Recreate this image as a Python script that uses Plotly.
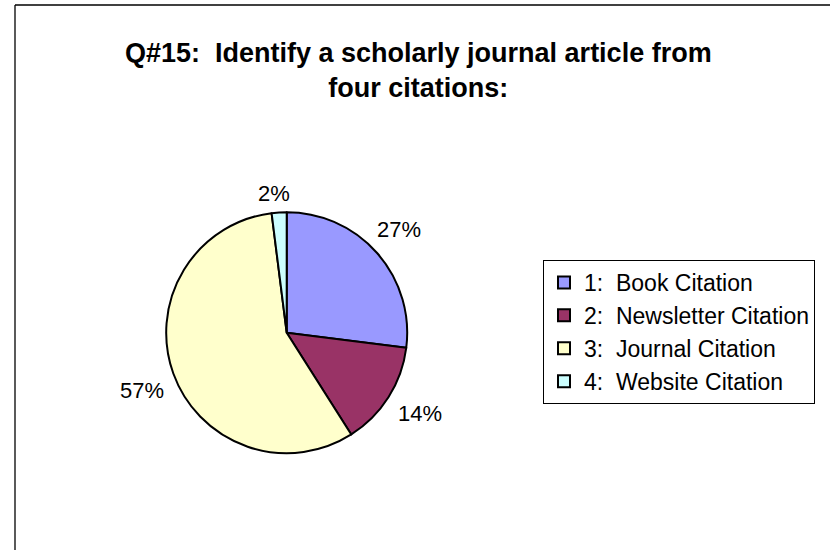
import math
import plotly.graph_objects as go

# ---- data ----
labels = ["1:\u00a0 Book Citation", "2:\u00a0 Newsletter Citation",
          "3:\u00a0 Journal Citation", "4:\u00a0 Website Citation"]
values = [27, 14, 57, 2]
pct_text = ["27%", "14%", "57%", "2%"]
colors = ["#9999FF", "#993366", "#FFFFCC", "#CCFFFF"]
title_text = "Q#15:\u00a0 Identify a scholarly journal article from<br>four citations:"

W, H = 830, 550
cx, cy, R = 286.7, 332.7, 120.5  # pie centre / radius in pixels
FS = 22

fig = go.Figure(go.Pie(
    labels=labels, values=values, sort=False, direction="clockwise", rotation=0,
    marker=dict(colors=colors, line=dict(color="#000000", width=2)),
    textinfo="none", hoverinfo="label+percent",
    domain=dict(x=[(cx - R) / W, (cx + R) / W], y=[1 - (cy + R) / H, 1 - (cy - R) / H]),
))

# percentage labels placed outside the pie, from the data angles
total = sum(values)
cum = 0
annotations = []
for v, t in zip(values, pct_text):
    mid = (cum + v / 2) / total * 2 * math.pi - 0.025
    cum += v
    s, c = math.sin(mid), math.cos(mid)
    w = sum(0.889 if ch == "%" else 0.556 for ch in t) * FS
    h = 14
    d = R + 12 + abs(s) * w / 2 + abs(c) * h / 2
    px, py = cx + d * s, cy - d * c
    annotations.append(dict(x=px / W, y=1 - (py + 1) / H, xref="paper", yref="paper",
                            text=t, showarrow=False, xanchor="center", yanchor="middle",
                            font=dict(size=FS, color="#000000")))

fig.update_layout(
    width=W, height=H, margin=dict(l=0, r=0, t=0, b=0),
    paper_bgcolor="white", plot_bgcolor="white",
    font=dict(family="Arial, Liberation Sans, sans-serif", color="#000000"),
    title=dict(text="<b>" + title_text + "</b>", x=0.504, xanchor="center",
               y=1 - 62 / H, yanchor="top", font=dict(size=27, color="#000000")),
    legend=dict(x=543 / W, y=1 - 260 / H, xanchor="left", yanchor="top",
                bordercolor="#000000", borderwidth=1, bgcolor="white",
                font=dict(size=23, color="#000000")),
    annotations=annotations,
    shapes=[
        dict(type="line", xref="paper", yref="paper", x0=15 / W, x1=1, y0=1 - 5 / H, y1=1 - 5 / H,
             line=dict(color="#000000", width=1.3)),
        dict(type="line", xref="paper", yref="paper", x0=15 / W, x1=15 / W, y0=0, y1=1 - 5 / H,
             line=dict(color="#000000", width=1.3)),
    ],
)

fig.write_html("out.html", config={"displayModeBar": False},
               post_script="document.body.style.margin='0';")
